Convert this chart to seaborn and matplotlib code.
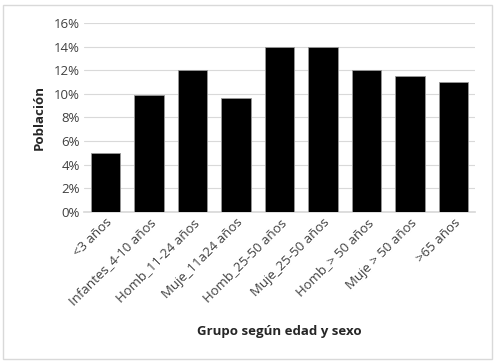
import pandas as pd
import numpy as np
import seaborn as sns
import matplotlib.pyplot as plt
from matplotlib.patches import Rectangle
from matplotlib.ticker import PercentFormatter

# data
grupos = ['<3 años', 'Infantes_4-10 años', 'Homb_11-24 años', 'Muje_11a24 años',
          'Homb_25-50 años', 'Muje_25-50 años', 'Homb_> 50 años', 'Muje > 50 años',
          '>65 años']
poblacion = [0.05, 0.099, 0.12, 0.096, 0.14, 0.14, 0.12, 0.115, 0.11]

data = pd.DataFrame({'Grupo': grupos, 'Poblacion': poblacion})

sns.set_theme(style="white")
plt.rcParams['font.family'] = ['Open Sans', 'DejaVu Sans']

fig = plt.figure(figsize=(4.96, 3.64), dpi=100)
ax = fig.add_axes([0.169, 0.418, 0.789, 0.519])

sns.barplot(data=data, x='Grupo', y='Poblacion', color='black', width=0.67,
            edgecolor='#999999', linewidth=0.6, ax=ax, zorder=3)

ax.set_ylim(0, 0.16)
ax.set_yticks(np.arange(0, 0.161, 0.02))
ax.yaxis.set_major_formatter(PercentFormatter(1.0, decimals=0))
ax.yaxis.grid(True, color='#d9d9d9', linewidth=0.8, zorder=0)
ax.set_axisbelow(True)
for s in ['top', 'right', 'left']:
    ax.spines[s].set_visible(False)
ax.spines['bottom'].set_color('#d9d9d9')
ax.tick_params(axis='both', length=0, labelsize=9.5, colors='#404040', pad=3)
ax.set_xlim(-0.5, 8.5)
plt.setp(ax.get_xticklabels(), rotation=45, ha='right', rotation_mode='anchor')

ax.set_xlabel('Grupo según edad y sexo', fontsize=9.5, fontweight='bold', labelpad=12)
ax.set_ylabel('Población', fontsize=9.5, fontweight='bold', labelpad=6)

# light frame around the chart area
fig.patches.append(Rectangle((0.006, 0.014), 0.986, 0.972, transform=fig.transFigure,
                             fill=False, edgecolor='#d9d9d9', linewidth=1))

fig.savefig('out.png', dpi=100)
